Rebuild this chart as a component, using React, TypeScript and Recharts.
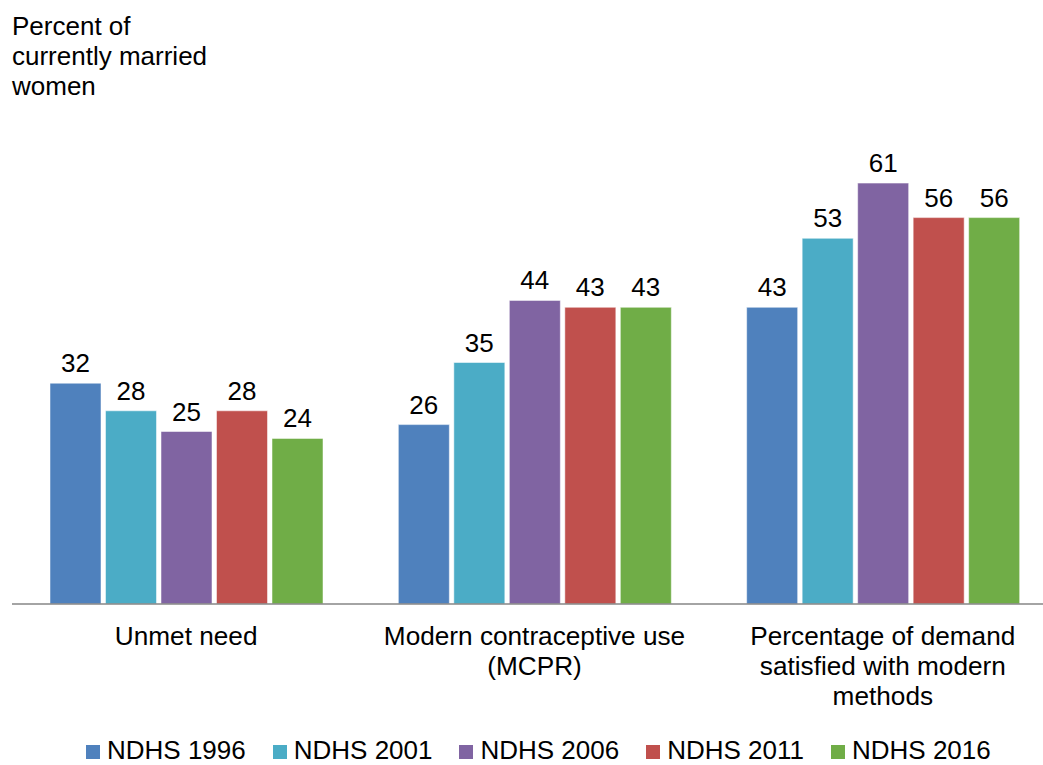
import { Bar, BarChart, LabelList, Legend, XAxis, YAxis } from "recharts";

// Category labels, one entry per printed line
const categoryLines = [
  ["Unmet need"],
  ["Modern contraceptive use", "(MCPR)"],
  ["Percentage of demand", "satisfied with modern", "methods"]
];

const surveys = ["NDHS 1996", "NDHS 2001", "NDHS 2006", "NDHS 2011", "NDHS 2016"];

const ndhs1996 = [32, 26, 43];
const ndhs2001 = [28, 35, 53];
const ndhs2006 = [25, 44, 61];
const ndhs2011 = [28, 43, 56];
const ndhs2016 = [24, 43, 56];

const seriesValues = [ndhs1996, ndhs2001, ndhs2006, ndhs2011, ndhs2016];
const seriesColors = ["#4f81bd", "#4bacc6", "#8064a2", "#c0504d", "#70ad47"];

const fontFamily = '"Liberation Sans", Arial, sans-serif';

const rows = categoryLines.map((lines, i) => {
  const row: Record<string, string | number> = { name: lines.join(" ") };
  surveys.forEach((survey, s) => {
    row[survey] = seriesValues[s][i];
  });
  return row;
});

const CategoryTick = (props: any): React.ReactElement => {
  const { x, y, index } = props;
  const lines = categoryLines[index] ?? [];
  return (
    <text x={x} y={y} textAnchor="middle" fill="#000" fontSize={26.2} fontFamily={fontFamily}>
      {lines.map((line, i) => (
        <tspan key={line} x={x} dy={i === 0 ? 41 : 30}>
          {line}
        </tspan>
      ))}
    </text>
  );
};

const SurveyLegend = (): React.ReactElement => (
  <div style={{ display: "flex", paddingLeft: 86, fontFamily, fontSize: 26, lineHeight: "20px", color: "#000" }}>
    {surveys.map((survey, i) => (
      <div key={survey} style={{ display: "flex", alignItems: "flex-start", marginRight: 27 }}>
        <span style={{ width: 14, height: 14, marginTop: 5, marginRight: 7, background: seriesColors[i] }} />
        <span style={{ whiteSpace: "nowrap" }}>{survey}</span>
      </div>
    ))}
  </div>
);

export default function App(): React.ReactElement {
  return (
    <div style={{ position: "absolute", left: 0, top: 0, width: 1043, height: 765, overflow: "hidden", background: "#fff" }}>
      <div
        style={{
          position: "absolute",
          left: 12,
          top: 11,
          fontFamily,
          fontSize: 26,
          lineHeight: "30px",
          color: "#000",
          zIndex: 1
        }}
      >
        Percent of
        <br />
        currently married
        <br />
        women
      </div>
      <BarChart
        width={1070}
        height={765}
        data={rows}
        margin={{ top: 121, right: 13, bottom: 31, left: 12 }}
        barSize={51}
        barGap={4.5}
      >
        <XAxis
          dataKey="name"
          height={130}
          tickLine={false}
          tickSize={0}
          tickMargin={0}
          axisLine={{ stroke: "#868686", strokeWidth: 1.3 }}
          tick={<CategoryTick />}
          interval={0}
        />
        <YAxis hide domain={[0, 70]} />
        <Legend
          layout="horizontal"
          align="center"
          verticalAlign="middle"
          wrapperStyle={{ top: 740, left: 0, width: 1043 }}
          content={<SurveyLegend />}
        />
        {surveys.map((survey, i) => (
          <Bar
            key={survey}
            dataKey={survey}
            fill={seriesColors[i]}
            stroke="#ffffff"
            strokeOpacity={0.5}
            strokeWidth={1}
            isAnimationActive={false}
          >
            <LabelList
              dataKey={survey}
              position="top"
              offset={11}
              fill="#000"
              fontSize={26}
              fontFamily={fontFamily}
            />
          </Bar>
        ))}
      </BarChart>
    </div>
  );
}
